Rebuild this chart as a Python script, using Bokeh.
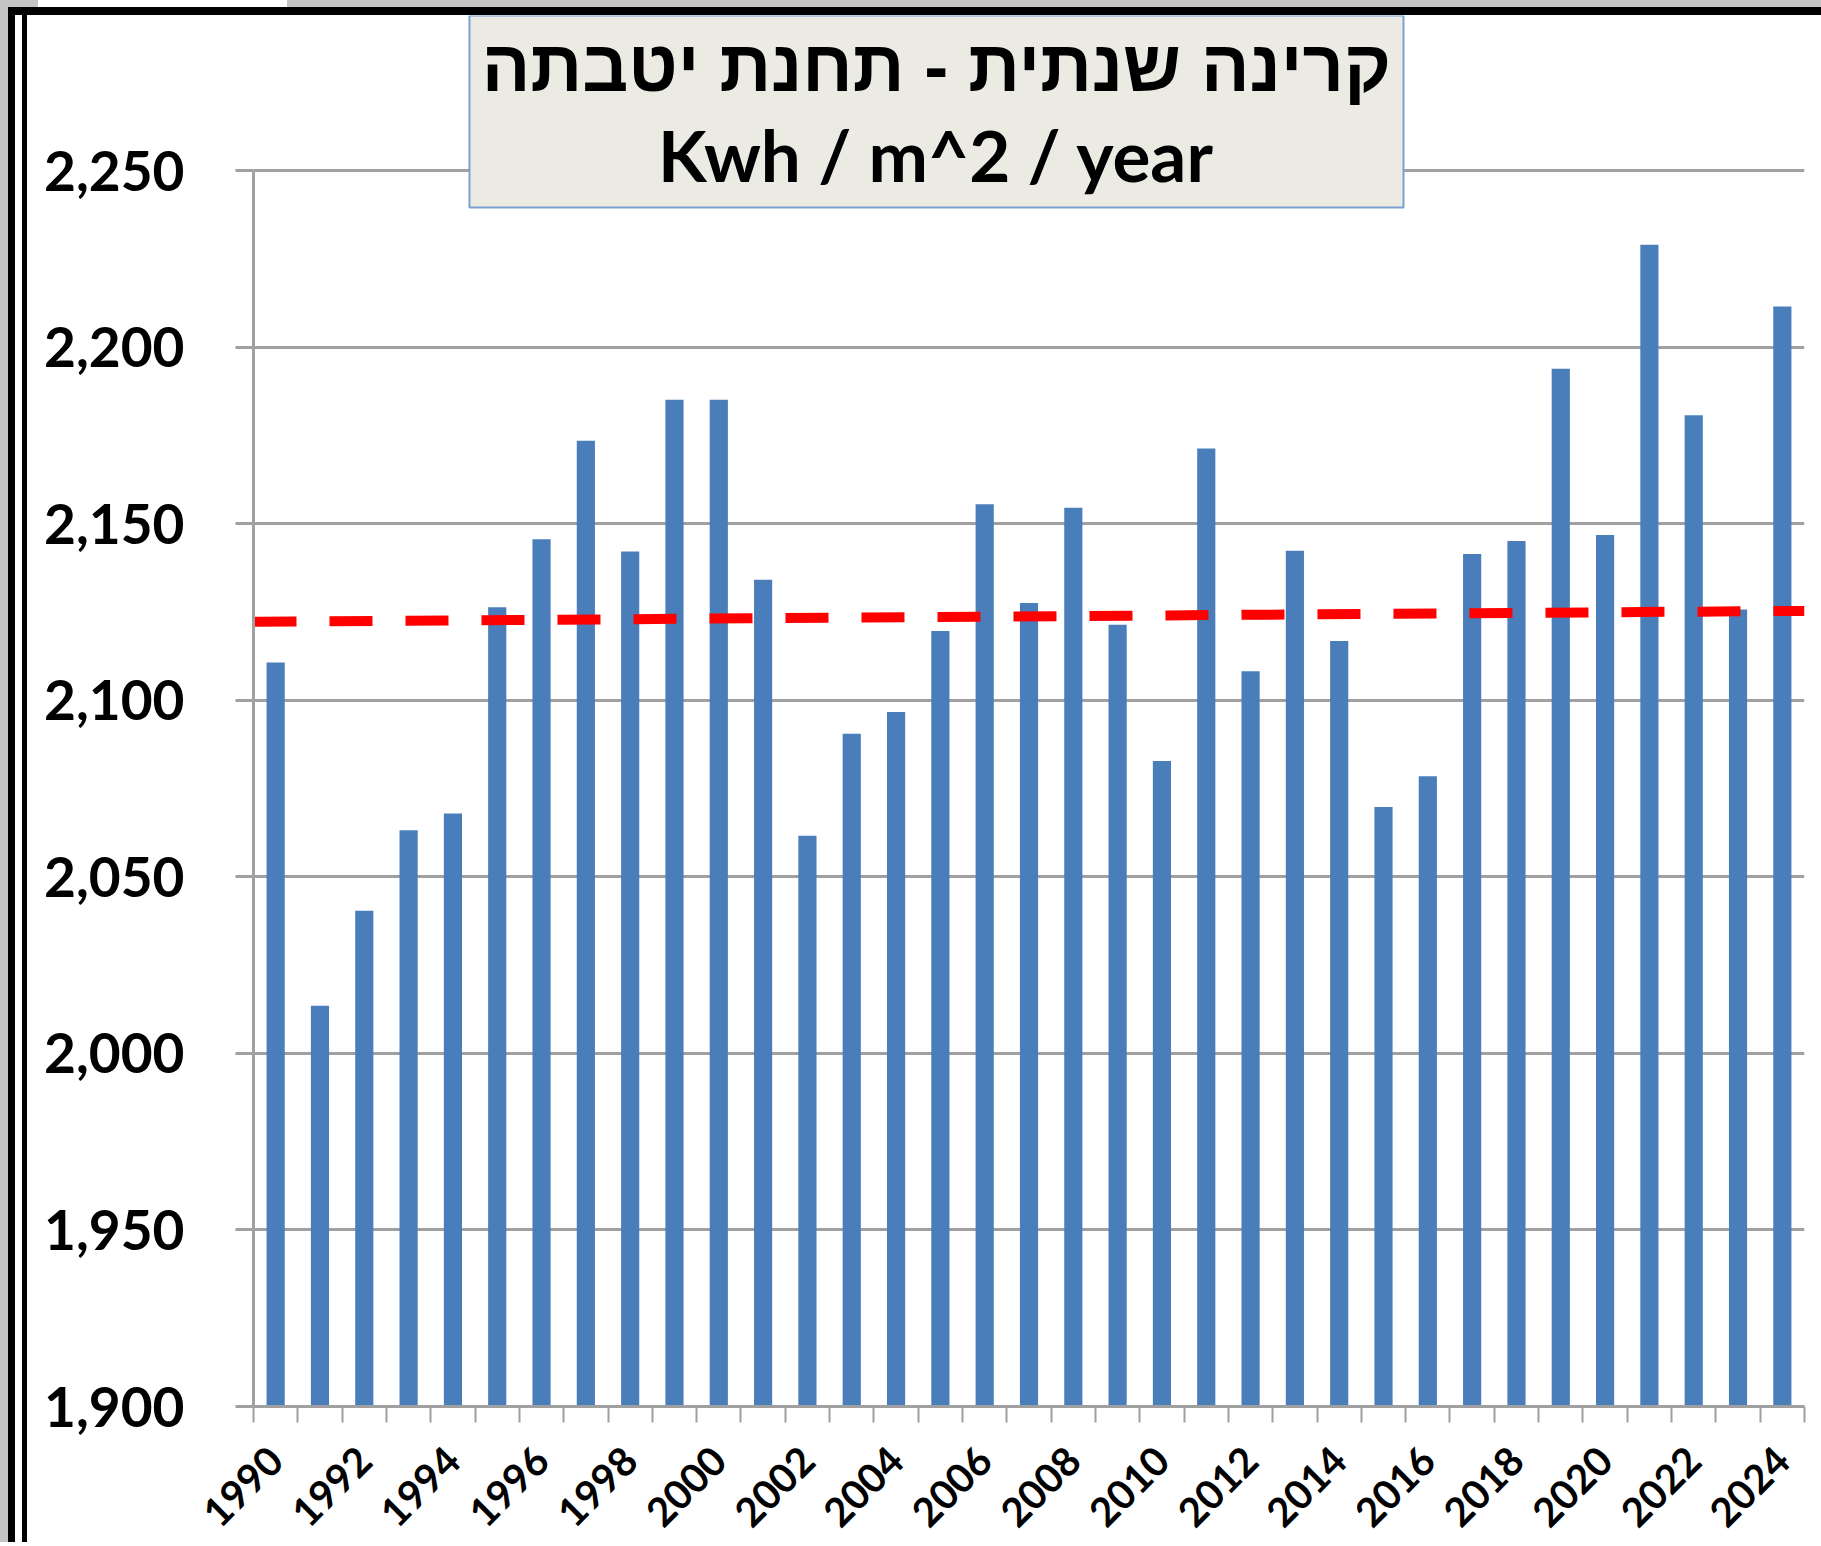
import math
from bokeh.plotting import figure
from bokeh.models import FixedTicker, NumeralTickFormatter, BoxAnnotation, Label, Range1d
from bokeh.embed import file_html
from bokeh.resources import INLINE

# ---- data ----
years = list(range(1990, 2025))
radiation = [2110.7, 2013.5, 2040.4, 2063.2, 2067.9, 2126.3, 2145.6, 2173.5, 2142.1, 2185.1, 2185.1, 2134.1,
             2061.6, 2090.5, 2096.7, 2119.6, 2155.5, 2127.5, 2154.5, 2121.4, 2082.8, 2171.3, 2108.2, 2142.3,
             2116.8, 2069.8, 2078.5, 2141.4, 2145.1, 2193.9, 2146.8, 2229.0, 2180.7, 2125.7, 2211.5]
trend_x = [1989.5, 2024.5]
trend_y = [2122.2, 2125.3]
y_ticks = [1900, 1950, 2000, 2050, 2100, 2150, 2200, 2250]
x_label_years = list(range(1990, 2025, 2))
title_he = "קרינה שנתית - תחנת יטבתה"
title_units = "Kwh / m^2 / year"

# ---- layout ----
x_bounds = [y - 0.5 for y in years] + [years[-1] + 0.5]
grey = "#a0a0a0"

p = figure(width=1821, height=1542,
           x_range=Range1d(x_bounds[0], x_bounds[-1]),
           y_range=Range1d(1900, 2293.9),
           output_backend="svg", toolbar_location=None,
           min_border_left=253, min_border_right=17, min_border_top=15, min_border_bottom=136)
p.outline_line_color = None
p.background_fill_color = "white"
p.border_fill_color = None

# page frame (grey strips and black double rule on the top/left edges)
p.styles = {
    "background": (
        "linear-gradient(#ffffff,#ffffff) 38px 0 / 249px 7px no-repeat, "
        "linear-gradient(#c4c4c4,#c4c4c4) 0 0 / 8px 100% no-repeat, "
        "linear-gradient(#c4c4c4,#c4c4c4) 0 0 / 100% 7px no-repeat, "
        "linear-gradient(#000000,#000000) 0 7px / 100% 8px no-repeat, "
        "linear-gradient(#000000,#000000) 8px 0 / 7px 100% no-repeat, "
        "linear-gradient(#000000,#000000) 22px 0 / 5px 100% no-repeat, "
        "#ffffff"
    )
}

# y axis
p.yaxis.ticker = FixedTicker(ticks=y_ticks)
p.yaxis.formatter = NumeralTickFormatter(format="0,0")
p.yaxis.bounds = (y_ticks[0], y_ticks[-1])
p.yaxis.axis_line_color = grey
p.yaxis.axis_line_width = 3
p.yaxis.major_tick_out = 18
p.yaxis.major_tick_in = 0
p.yaxis.major_tick_line_color = grey
p.yaxis.major_tick_line_width = 3
p.yaxis.minor_tick_line_color = None
p.yaxis.major_label_text_font = "Lato"
p.yaxis.major_label_text_font_size = "55px"
p.yaxis.major_label_text_font_style = "bold"
p.yaxis.major_label_text_color = "black"
p.yaxis.major_label_standoff = 51

p.ygrid.ticker = FixedTicker(ticks=y_ticks)
p.ygrid.grid_line_color = grey
p.ygrid.grid_line_width = 3
p.xgrid.visible = False

# x axis
p.xaxis.ticker = FixedTicker(ticks=x_label_years, minor_ticks=x_bounds)
p.xaxis.major_tick_line_color = None
p.xaxis.major_tick_out = 0
p.xaxis.major_tick_in = 0
p.xaxis.minor_tick_out = 16
p.xaxis.minor_tick_in = 0
p.xaxis.minor_tick_line_color = grey
p.xaxis.minor_tick_line_width = 2
p.xaxis.axis_line_color = grey
p.xaxis.axis_line_width = 3
p.xaxis.major_label_orientation = math.pi / 4
p.xaxis.major_label_text_font = "Lato"
p.xaxis.major_label_text_font_size = "40px"
p.xaxis.major_label_text_font_style = "bold"
p.xaxis.major_label_text_color = "black"
p.xaxis.major_label_standoff = 31

# bars
p.vbar(x=years, top=radiation, bottom=y_ticks[0], width=0.41,
       fill_color="#4a7ebb", line_color=None)

# trend line
p.line(trend_x, trend_y, line_color="#ff0000", line_width=10, line_dash="43 33")

# title box
p.add_layout(BoxAnnotation(left=1994.374, right=2015.451, bottom=2239.5, top=2293.9,
                           fill_color="#ecebe3", fill_alpha=1.0,
                           line_color="#7a9fd0", line_width=2, line_alpha=1.0))
p.add_layout(Label(x=2004.91, y=2279.5, text=title_he, text_align="center", text_baseline="middle",
                   text_font="Liberation Sans", text_font_style="bold", text_font_size="72px",
                   text_color="black"))
p.add_layout(Label(x=2004.91, y=2254.4, text=title_units, text_align="center", text_baseline="middle",
                   text_font="Lato", text_font_style="bold", text_font_size="71px",
                   text_color="black"))

open("out.html", "w").write(file_html(p, INLINE))
